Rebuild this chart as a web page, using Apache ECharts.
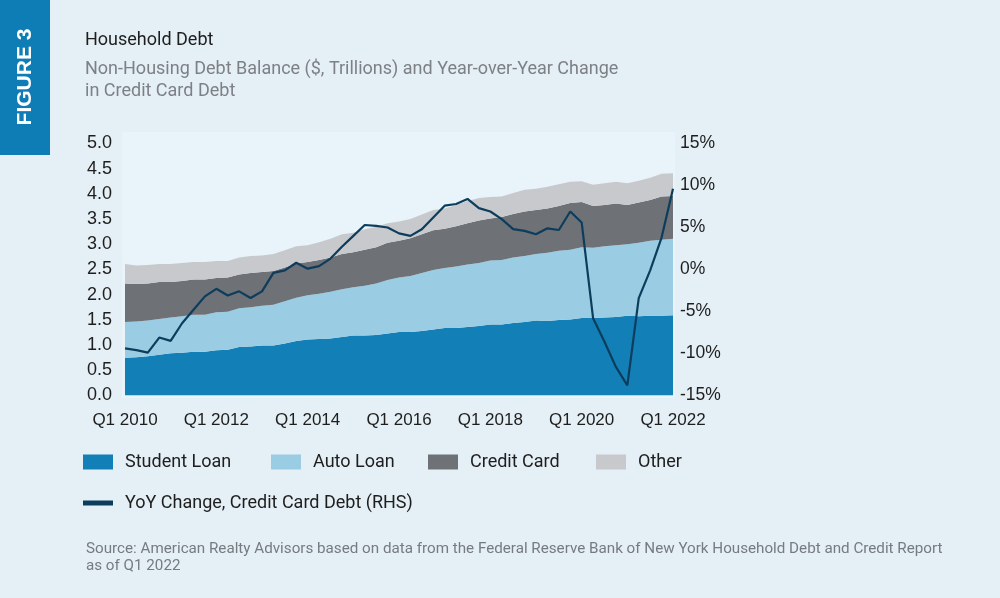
<!DOCTYPE html>
<html>
<head>
<meta charset="utf-8">
<script src="https://cdn.jsdelivr.net/npm/echarts@6/dist/echarts.min.js"></script>
<style>
html,body{margin:0;padding:0;background:#e4eff6;}
#c{width:1000px;height:598px;}
</style>
</head>
<body>
<div id="c"></div>
<script>
var quarters = [];
for (var y = 2010; y <= 2022; y++) { for (var q = 1; q <= 4; q++) { if (y === 2022 && q > 1) break; quarters.push('Q' + q + ' ' + y); } }

var studentLoan = [0.75,0.76,0.78,0.81, 0.84,0.85,0.87,0.87, 0.90,0.91,0.96,0.97, 0.99,0.99,1.03,1.08, 1.11,1.12,1.13,1.16, 1.19,1.19,1.20,1.23, 1.26,1.26,1.28,1.31, 1.34,1.34,1.36,1.38, 1.41,1.41,1.44,1.46, 1.49,1.48,1.50,1.51, 1.54,1.54,1.55,1.56, 1.58,1.57,1.58,1.58, 1.59];
var autoLoan = [0.71,0.71,0.71,0.71, 0.71,0.72,0.73,0.73, 0.75,0.75,0.77,0.78, 0.79,0.81,0.84,0.86, 0.88,0.90,0.93,0.95, 0.96,0.99,1.02,1.06, 1.08,1.11,1.15,1.18, 1.19,1.22,1.24,1.25, 1.27,1.28,1.30,1.31, 1.32,1.35,1.37,1.38, 1.40,1.39,1.41,1.42, 1.42,1.46,1.49,1.51, 1.52];
var creditCard = [0.76,0.74,0.73,0.73, 0.70,0.70,0.70,0.70, 0.68,0.68,0.67,0.68, 0.67,0.67,0.67,0.68, 0.66,0.67,0.68,0.70, 0.69,0.71,0.72,0.74, 0.73,0.75,0.77,0.79, 0.78,0.80,0.82,0.84, 0.83,0.85,0.86,0.88, 0.87,0.88,0.89,0.93, 0.90,0.83,0.82,0.83, 0.78,0.80,0.81,0.86, 0.85];
var otherDebt = [0.39,0.37,0.37,0.36, 0.36,0.36,0.35,0.35, 0.34,0.33,0.34,0.34, 0.33,0.34,0.34,0.34, 0.33,0.35,0.37,0.39, 0.39,0.41,0.41,0.39, 0.38,0.38,0.39,0.40, 0.40,0.42,0.44,0.45, 0.43,0.41,0.42,0.43, 0.42,0.43,0.43,0.42, 0.41,0.42,0.43,0.43, 0.43,0.43,0.44,0.45, 0.45];
var yoyCreditCard = [-9.4,-9.6,-9.9,-8.1, -8.5,-6.4,-4.8,-3.2, -2.3,-3.1,-2.6,-3.4, -2.6,-0.4,-0.1,0.8, 0.1,0.4,1.3,2.7, 4.0,5.3,5.2,5.0, 4.3,4.0,4.8,6.2, 7.6,7.8,8.4,7.3, 6.9,6.0,4.8,4.6, 4.2,4.9,4.7,6.9, 5.6,-5.8,-8.6,-11.6, -13.8,-3.4,-0.1,3.8, 9.6];

var leftTicks = {min: 0, max: 5, interval: 0.5};
var rightTicks = {min: -15, max: 15, interval: 5};

var colors = {student: '#137fb7', auto: '#9acde3', credit: '#6e7176', other: '#c8c9cc', line: '#0d3d5c'};
var sansText = 'Roboto, "Liberation Sans", sans-serif';
var axisFont = '"Liberation Sans", Arial, sans-serif';

function areaSeries(name, data, color) {
  return {
    name: name, type: 'line', stack: 'debt', data: data,
    symbol: 'none', showSymbol: false,
    lineStyle: {width: 0, color: color},
    itemStyle: {color: color},
    areaStyle: {color: color, opacity: 1},
    emphasis: {disabled: true}, z: 2
  };
}

var legendBase = {
  icon: 'rect', itemWidth: 30, itemHeight: 15, selectedMode: false, padding: 0,
  textStyle: {fontFamily: sansText, fontSize: 18, color: '#1e1e1e', padding: [0, 0, 0, 7]}
};
function legendAt(name, left, top, extra) {
  return Object.assign({}, legendBase, {data: [name], left: left, top: top}, extra || {});
}

var chart = echarts.init(document.getElementById('c'), null, {renderer: 'canvas'});
chart.setOption({
  backgroundColor: '#e4eff6',
  animation: false,
  graphic: [
    {type: 'rect', shape: {x: 0, y: 0, width: 50, height: 155}, style: {fill: '#0e7db6'}, z: 0},
    {type: 'text', x: 25, y: 77, rotation: Math.PI / 2,
     style: {text: 'FIGURE 3', fill: '#ffffff', font: 'bold 21px "Liberation Sans", Arial, sans-serif', textAlign: 'center', textVerticalAlign: 'middle'}},
    {type: 'rect', shape: {x: 122, y: 132, width: 553, height: 266}, style: {fill: '#e8f4fa'}, z: -1},
    {type: 'text', x: 85, y: 40, style: {text: 'Household Debt', fill: '#1e1e1e', font: '18px ' + sansText, textVerticalAlign: 'middle'}},
    {type: 'text', x: 85, y: 69, style: {text: 'Non-Housing Debt Balance ($, Trillions) and Year-over-Year Change', fill: '#7d8186', font: '18px ' + sansText, textVerticalAlign: 'middle'}},
    {type: 'text', x: 85, y: 91, style: {text: 'in Credit Card Debt', fill: '#7d8186', font: '18px ' + sansText, textVerticalAlign: 'middle'}},
    {type: 'text', x: 86, y: 549, style: {text: 'Source: American Realty Advisors based on data from the Federal Reserve Bank of New York Household Debt and Credit Report', fill: '#767b80', font: '15.2px ' + sansText, textVerticalAlign: 'middle'}},
    {type: 'text', x: 86, y: 566, style: {text: 'as of Q1 2022', fill: '#767b80', font: '15.2px ' + sansText, textVerticalAlign: 'middle'}}
  ],
  grid: {left: 125, right: 327, top: 143.5, bottom: 202.5, containLabel: false},
  legend: [
    legendAt('Student Loan', 83, 453),
    legendAt('Auto Loan', 271, 453),
    legendAt('Credit Card', 428, 453),
    legendAt('Other', 596, 453),
    legendAt('YoY Change, Credit Card Debt (RHS)', 83, 494, {itemHeight: 5})
  ],
  xAxis: {
    type: 'category', data: quarters, boundaryGap: false,
    axisLine: {show: false}, axisTick: {show: false}, splitLine: {show: false},
    axisLabel: {interval: 7, margin: 16, fontFamily: axisFont, fontSize: 17, color: '#1e1e1e'}
  },
  yAxis: [
    {type: 'value', min: leftTicks.min, max: leftTicks.max, interval: leftTicks.interval,
     axisLine: {show: false}, axisTick: {show: false}, splitLine: {show: false},
     axisLabel: {margin: 13, fontFamily: axisFont, fontSize: 18, color: '#1e1e1e', formatter: function (v) { return v.toFixed(1); }}},
    {type: 'value', min: rightTicks.min, max: rightTicks.max, interval: rightTicks.interval, position: 'right',
     axisLine: {show: false}, axisTick: {show: false}, splitLine: {show: false},
     axisLabel: {margin: 7, fontFamily: axisFont, fontSize: 17.5, color: '#1e1e1e', formatter: function (v) { return v + '%'; }}}
  ],
  series: [
    areaSeries('Student Loan', studentLoan, colors.student),
    areaSeries('Auto Loan', autoLoan, colors.auto),
    areaSeries('Credit Card', creditCard, colors.credit),
    areaSeries('Other', otherDebt, colors.other),
    {name: 'YoY Change, Credit Card Debt (RHS)', type: 'line', yAxisIndex: 1, data: yoyCreditCard,
     symbol: 'none', showSymbol: false, lineStyle: {width: 2.2, color: colors.line}, itemStyle: {color: colors.line},
     emphasis: {disabled: true}, z: 5}
  ]
});
</script>
</body>
</html>
